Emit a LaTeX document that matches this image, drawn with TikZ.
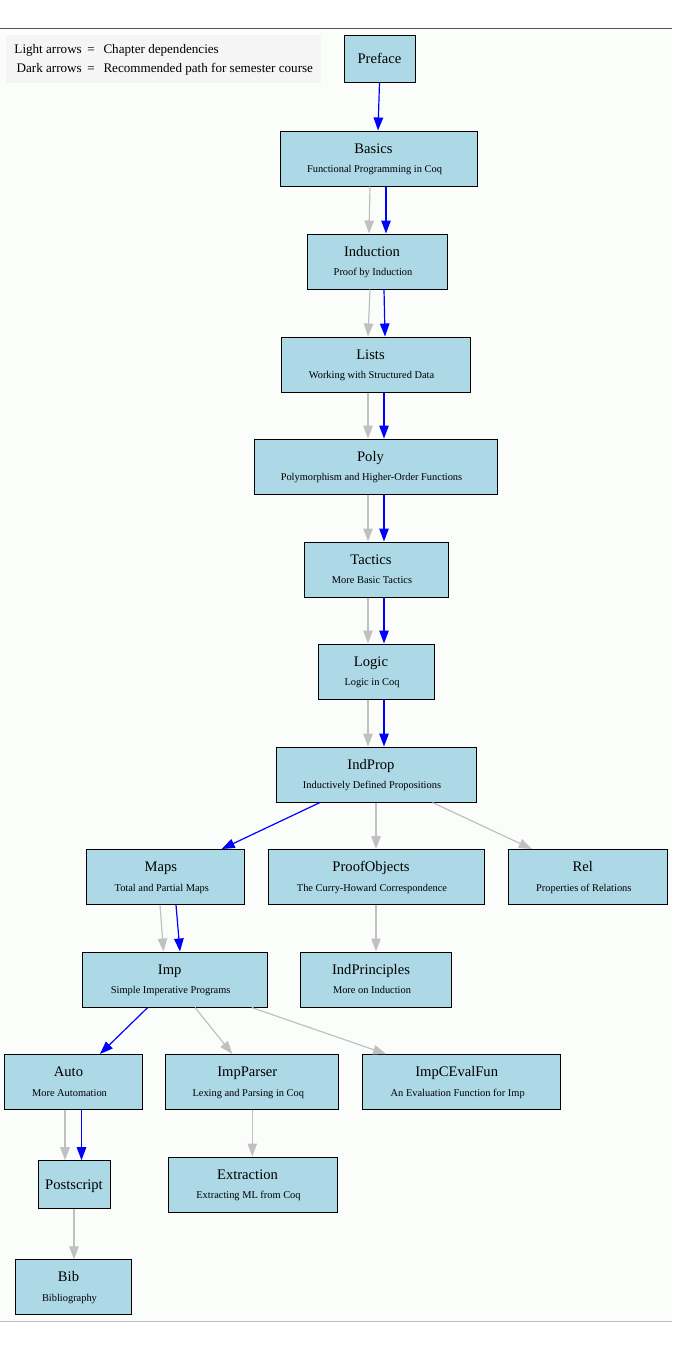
\documentclass[tikz,border=0pt]{standalone}
\usepackage{fontspec}
\setmainfont{Liberation Serif}
\usetikzlibrary{arrows.meta}
\definecolor{boxblue}{HTML}{ADD8E6}
\definecolor{depgray}{HTML}{C0C0C0}
\definecolor{recblue}{HTML}{0000FF}
\definecolor{pagebg}{HTML}{FBFDFB}
\definecolor{legendbg}{HTML}{F5F5F5}
\definecolor{topline}{HTML}{555555}
\tikzset{
  chbox/.style={draw=black, fill=boxblue, line width=1pt, rectangle, inner sep=0pt, minimum height=55pt},
  chtitle/.style={anchor=base, inner sep=0pt, font=\fontsize{14.6}{17}\selectfont},
  chsub/.style={anchor=base, inner sep=0pt, font=\fontsize{10.4}{12}\selectfont},
  legtext/.style={inner sep=0pt, font=\fontsize{13.1}{15}\selectfont},
  dep/.style={draw=depgray, line width=1.2pt, -{Triangle[length=13pt,width=9.5pt]}},
  rec/.style={draw=recblue, line width=1.2pt, -{Triangle[length=13pt,width=9.5pt]}},
}
\newcommand{\chapbox}[6]{%
  \node[chbox, minimum width=#4pt] (#1) at (#2,#3) {};
  \node[chtitle] (#1t) at ([xshift=-5pt,yshift=5.5pt]#1.center) {#5};
  \node[chsub] (#1s) at ([xshift=-4pt,yshift=-14pt]#1.center) {#6};
}
\begin{document}
\begin{tikzpicture}[x=1pt,y=-1pt]
\useasboundingbox (0,0) rectangle (672,1349);
\fill[white] (0,0) rectangle (672,1349);
\fill[pagebg] (0,28.3) rectangle (672,1321.5);
\draw[topline, line width=0.9pt] (0,28.3) -- (672,28.3);
\draw[depgray, line width=0.9pt] (0,1321.5) -- (672,1321.5);

% legend
\node[fill=legendbg, inner sep=0pt, minimum width=315pt, minimum height=48pt] (legend) at (163.5,59) {};
\node[legtext, anchor=base east] (l1a) at (82,53.3) {Light arrows};
\node[legtext, anchor=base] (l1b) at (91,53.3) {=};
\node[legtext, anchor=base west] (l1c) at (103.3,53.3) {Chapter dependencies};
\node[legtext, anchor=base east] (l2a) at (82,72.7) {Dark arrows};
\node[legtext, anchor=base] (l2b) at (91,72.7) {=};
\node[legtext, anchor=base west] (l2c) at (103.3,72.7) {Recommended path for semester course};

% nodes
\node[chbox, minimum width=71pt, minimum height=47pt] (preface) at (379.5,58.5) {};
\node[chtitle] (prefacet) at ([yshift=-5pt]preface.center) {Preface};
\chapbox{basics}{378.5}{158.5}{197}{Basics}{Functional Programming in Coq}
\chapbox{induction}{377}{261.5}{140}{Induction}{Proof by Induction}
\chapbox{lists}{375.5}{364.5}{189}{Lists}{Working with Structured Data}
\chapbox{poly}{375.5}{466.5}{243}{Poly}{Polymorphism and Higher-Order Functions}
\chapbox{tactics}{376}{569.5}{144}{Tactics}{More Basic Tactics}
\chapbox{logic}{376}{671.5}{116}{Logic}{Logic in Coq}
\chapbox{indprop}{376}{774.5}{200}{IndProp}{Inductively Defined Propositions}
\chapbox{maps}{165.8}{877}{158}{Maps}{Total and Partial Maps}
\chapbox{proofobjects}{376}{877}{216}{ProofObjects}{The Curry-Howard Correspondence}
\chapbox{rel}{587.8}{877}{159}{Rel}{Properties of Relations}
\chapbox{imp}{174.7}{979.5}{185}{Imp}{Simple Imperative Programs}
\chapbox{indprinciples}{376}{979.5}{150.6}{IndPrinciples}{More on Induction}
\chapbox{auto}{73.5}{1082}{137.6}{Auto}{More Automation}
\chapbox{impparser}{252.3}{1082}{173.3}{ImpParser}{Lexing and Parsing in Coq}
\chapbox{impcevalfun}{461.7}{1082}{198}{ImpCEvalFun}{An Evaluation Function for Imp}
\node[chbox, minimum width=72pt, minimum height=47.6pt] (postscript) at (74,1184.5) {};
\node[chtitle] (postscriptt) at ([yshift=-5pt]postscript.center) {Postscript};
\chapbox{extraction}{252.5}{1184.5}{169}{Extraction}{Extracting ML from Coq}
\chapbox{bib}{73.5}{1287.3}{116}{Bib}{Bibliography}

% edges
\draw[rec] (preface.south) -- ([xshift=-0.5pt]basics.north);

\draw[dep] ([xshift=-8.5pt]basics.south) -- ([xshift=-8pt]induction.north);
\draw[rec] ([xshift=7.5pt]basics.south) -- ([xshift=9pt]induction.north);

\draw[dep] ([xshift=-7pt]induction.south) -- ([xshift=-7.5pt]lists.north);
\draw[rec] ([xshift=7pt]induction.south) -- ([xshift=9.5pt]lists.north);

\draw[dep] ([xshift=-7.5pt]lists.south) -- ([xshift=-7.5pt]poly.north);
\draw[rec] ([xshift=8.5pt]lists.south) -- ([xshift=8.5pt]poly.north);

\draw[dep] ([xshift=-7.5pt]poly.south) -- ([xshift=-8pt]tactics.north);
\draw[rec] ([xshift=8.5pt]poly.south) -- ([xshift=8pt]tactics.north);

\draw[dep] ([xshift=-8pt]tactics.south) -- ([xshift=-8pt]logic.north);
\draw[rec] ([xshift=8pt]tactics.south) -- ([xshift=8pt]logic.north);

\draw[dep] ([xshift=-8pt]logic.south) -- ([xshift=-8pt]indprop.north);
\draw[rec] ([xshift=8pt]logic.south) -- ([xshift=8pt]indprop.north);

\draw[rec] ([xshift=-56pt]indprop.south) -- ([xshift=55.9pt]maps.north);
\draw[dep] (indprop.south) -- (proofobjects.north);
\draw[dep] ([xshift=56.5pt]indprop.south) -- ([xshift=-56pt]rel.north);

\draw[dep] ([xshift=-5.8pt]maps.south) -- ([xshift=-11.2pt]imp.north);
\draw[rec] ([xshift=10.2pt]maps.south) -- ([xshift=5.3pt]imp.north);

\draw[dep] (proofobjects.south) -- (indprinciples.north);

\draw[rec] ([xshift=-27pt]imp.south) -- ([xshift=26.5pt]auto.north);
\draw[dep] ([xshift=20.3pt]imp.south) -- ([xshift=-20pt]impparser.north);
\draw[dep] ([xshift=77pt]imp.south) -- ([xshift=-75.7pt]impcevalfun.north);

\draw[dep] ([xshift=-8.5pt]auto.south) -- ([xshift=-9pt]postscript.north);
\draw[rec] ([xshift=8pt]auto.south) -- ([xshift=7.5pt]postscript.north);

\draw[dep] (impparser.south) -- ([xshift=-0.2pt]extraction.north);
\draw[dep] (postscript.south) -- ([xshift=0.5pt]bib.north);
\end{tikzpicture}
\end{document}
